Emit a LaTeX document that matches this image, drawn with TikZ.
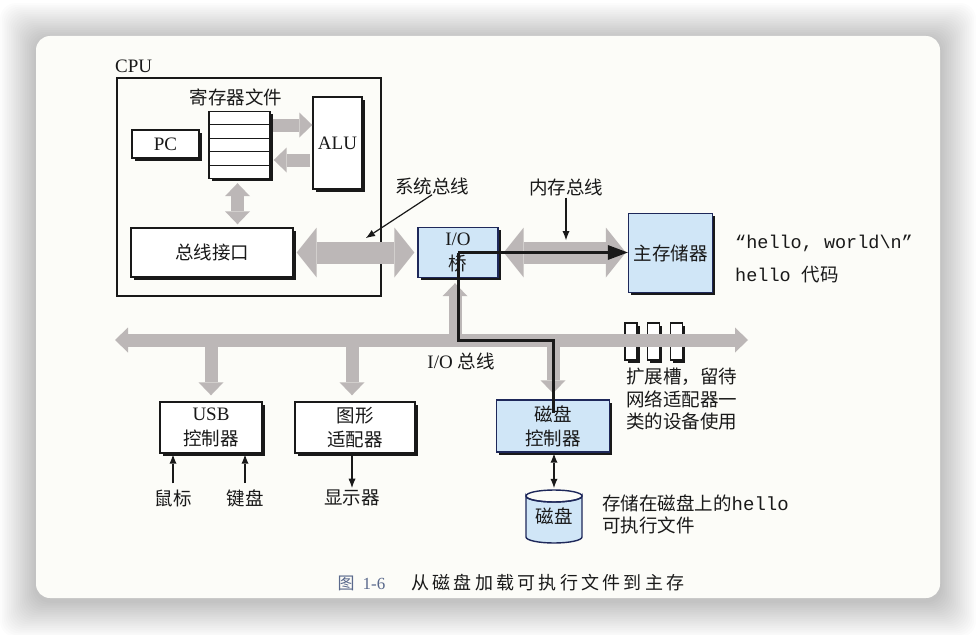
\documentclass[tikz,border=0pt]{standalone}
\usepackage{fontspec}
\setmainfont{Liberation Serif}
\newfontfamily\cjk{Noto Sans CJK SC}
\newfontfamily\mono{Liberation Mono}
\usetikzlibrary{arrows.meta,shadows,calc}
\definecolor{busgray}{RGB}{188,183,183}
\definecolor{lblue}{RGB}{208,230,247}
\definecolor{navy}{RGB}{30,40,90}
\definecolor{ink}{RGB}{25,25,25}
\definecolor{cardbg}{RGB}{252,252,248}
\definecolor{capblue}{RGB}{90,105,140}
\newcommand{\zh}[1]{{\cjk\fontsize{18.5}{24}\selectfont #1}}
\tikzset{
  BigT/.tip={Triangle[width=50pt,length=20pt,line width=0pt]},
  MidT/.tip={Triangle[width=25pt,length=13pt,line width=0pt]},
  ST/.tip={Latex[length=9pt,width=7pt,line width=0pt]},
  FT/.tip={Triangle[length=20pt,width=15pt,line width=0pt]},
  fatbig/.style={draw=busgray, line width=22pt},
  fatmid/.style={draw=busgray, line width=13pt},
  thinarr/.style={draw=ink, line width=1.2pt},
  box/.style={draw=ink, line width=1.4pt, fill=white,
    drop shadow={shadow xshift=2.5pt,shadow yshift=-2.5pt,fill=ink,opacity=1}},
  bbox/.style={box, draw=navy, fill=lblue},
  zhfont/.style={font=\cjk\fontsize{18.5}{24}\selectfont},
}
\begin{document}
\begin{tikzpicture}[x=1pt,y=-1pt,
  every node/.style={text=ink, inner sep=0pt, font=\fontsize{19}{25}\selectfont}]
\useasboundingbox (0,0) rectangle (976,634);
\fill[white] (0,0) rectangle (976,634);
\foreach \i in {1,...,20}{
  \fill[black, opacity=0.013, rounded corners=16pt] ({36-1.8*\i},{36-1.8*\i+3}) rectangle ({940+1.8*\i},{598+1.8*\i+3});
}
\fill[cardbg, rounded corners=14pt] (36,36) rectangle (940,598);

% CPU
\node[draw=ink, line width=1.8pt, minimum width=264pt, minimum height=218pt] (cpu) at (249,187) {};
\node[anchor=base west] (cpulbl) at (115,72) {CPU};
\node[zhfont] (reglbl) at (236,97) {寄存器文件};
\node[box, minimum width=61pt, minimum height=67pt] (reg) at (239.5,145) {};
\foreach \k in {1,2,3,4}
  \draw[draw=ink, line width=1pt] ($(reg.north west)!\k/5!(reg.south west)$) -- ($(reg.north east)!\k/5!(reg.south east)$);
\node[box, minimum width=67pt, minimum height=28pt] (pc) at (165.5,144) {PC};
\node[box, minimum width=49pt, minimum height=92pt] (alu) at (337.5,143) {ALU};
\node[box, zhfont, minimum width=162pt, minimum height=49pt] (busif) at (212,252.5) {总线接口};

% bridge and memory
\node[bbox, minimum width=80pt, minimum height=50pt, align=center] (bridge) at (458,252.5) {I/O\\\zh{桥}};
\node[bbox, zhfont, minimum width=84pt, minimum height=79pt] (mem) at (670.5,253) {主存储器};

% I/O devices
\node[box, minimum width=102pt, minimum height=51pt, align=center] (usb) at (211,427.5) {USB\\\zh{控制器}};
\node[box, zhfont, minimum width=120pt, minimum height=51pt, align=center] (gfx) at (355,427.5) {图形\\适配器};
\node[bbox, zhfont, minimum width=113pt, minimum height=52pt, align=center] (dctl) at (553,426) {磁盘\\控制器};
\node[box, minimum width=12pt, minimum height=37pt] (s1) at (631,341.5) {};
\node[box, minimum width=12pt, minimum height=37pt] (s2) at (653.5,341.5) {};
\node[box, minimum width=12pt, minimum height=37pt] (s3) at (676.5,341.5) {};

% disk cylinder
\filldraw[fill=lblue, draw=navy, line width=1.4pt] (526,496) -- (526,537) arc[start angle=180, end angle=360, x radius=28pt, y radius=6pt] -- (582,496) arc[start angle=0, end angle=-180, x radius=28pt, y radius=6pt] -- cycle;
\draw[draw=navy, line width=1.4pt] (554,496) ellipse [x radius=28pt, y radius=6pt];
\node[zhfont, minimum width=56pt, minimum height=53pt] (disk) at (554,516.5) {\raisebox{-8pt}{磁盘}};

% labels
\node[zhfont] (sysl) at (432,186) {系统总线};
\node[zhfont] (meml) at (566,187) {内存总线};
\node (iol) at (461,361) {I/O \zh{总线}};
\node[zhfont] (mouse) at (173,498) {鼠标};
\node[zhfont] (kbd) at (245,498) {键盘};
\node[zhfont] (disp) at (352,498) {显示器};
\node[anchor=north west, align=left, font=\cjk\fontsize{18.5}{22.5}\selectfont] (slottxt) at (626,368) {扩展槽，留待\\网络适配器一\\类的设备使用};
\node[anchor=west, align=left, font=\fontsize{18.5}{22}\selectfont] (disktxt) at (602,514) {\zh{存储在磁盘上的}{\mono\fontsize{19}{22}\selectfont hello}\\\zh{可执行文件}};
\node[anchor=west, font=\mono\fontsize{18.5}{20}\selectfont] (m1) at (735,243) {“hello, world\textbackslash n”};
\node[anchor=west, font=\mono\fontsize{18.5}{20}\selectfont] (m2) at (735,275) {hello \zh{代码}};
\node (cap) at (511,583) {\textcolor{capblue}{{\cjk\fontsize{17}{20}\selectfont 图}\hspace{8pt}{\fontsize{17}{20}\selectfont 1-6}}\hspace{26pt}{\cjk\fontsize{18}{20}\selectfont\addfontfeature{LetterSpace=18}从磁盘加载可执行文件到主存}};

% coordinates
\coordinate (busL) at (115,340);
\coordinate (busR) at (748,340);
\coordinate (ra1) at ($(reg.east)+(0,-20)$);
\coordinate (ra2) at ($(alu.west)+(0,17)$);
\coordinate (rb) at ($(reg.south)+(-2,0)$);
\coordinate (bu) at (455,340);
\coordinate (sysp) at (366,238);
\coordinate (memp) at (566,240);

% fat gray buses
\draw[fatmid, -MidT, shorten <=2pt] (ra1) -- (ra1 -| alu.west);
\draw[fatmid, -MidT, shorten <=2pt, shorten >=3pt] (ra2) -- (ra2 -| reg.east);
\draw[fatmid, MidT-MidT, shorten <=4pt, shorten >=3pt] (rb) -- (rb |- busif.north);
\draw[fatbig, BigT-BigT, shorten <=3pt, shorten >=3pt] (busif.east) -- (bridge.west);
\draw[fatbig, BigT-BigT, shorten <=5pt, shorten >=2pt] (bridge.east) -- (bridge.east -| mem.west);
\draw[fatmid, MidT-MidT] (busL) -- (busR);
\draw[fatmid, -MidT, shorten >=5pt] (bu) -- (bu |- bridge.south);
\draw[fatmid, -MidT, shorten >=6pt] (usb.north |- busL) -- (usb.north);
\draw[fatmid, -MidT, shorten >=6pt] ($(gfx.north |- busL)+(-3,0)$) -- ($(gfx.north)+(-3,0)$);
\draw[fatmid, -MidT, shorten >=6pt] (dctl.north |- busL) -- (dctl.north);

% thin arrows
\draw[thinarr, -ST] (sysl.south) -- (sysp);
\draw[thinarr, -ST, shorten <=2pt] (meml.south) -- (memp);
\draw[thinarr, -ST, shorten <=6pt, shorten >=1pt] (mouse.north) -- (mouse.north |- usb.south);
\draw[thinarr, -ST, shorten <=6pt, shorten >=1pt] (kbd.north) -- (kbd.north |- usb.south);
\draw[thinarr, -ST, shorten <=1pt, shorten >=2pt] (gfx.south -| disp.north) -- (disp.north);
\draw[thinarr, ST-ST, shorten <=1pt, shorten >=2pt] (dctl.south -| disk.north) -- (disk.north);

% thick black data path
\draw[draw=ink, line width=3pt, -FT] (bridge.center) -- (bridge.center -| mem.west);
\draw[draw=ink, line width=3pt] (bridge.center) |- (busL -| dctl.north) -- ($(dctl.center)+(0,-13)$);
\end{tikzpicture}
\end{document}
